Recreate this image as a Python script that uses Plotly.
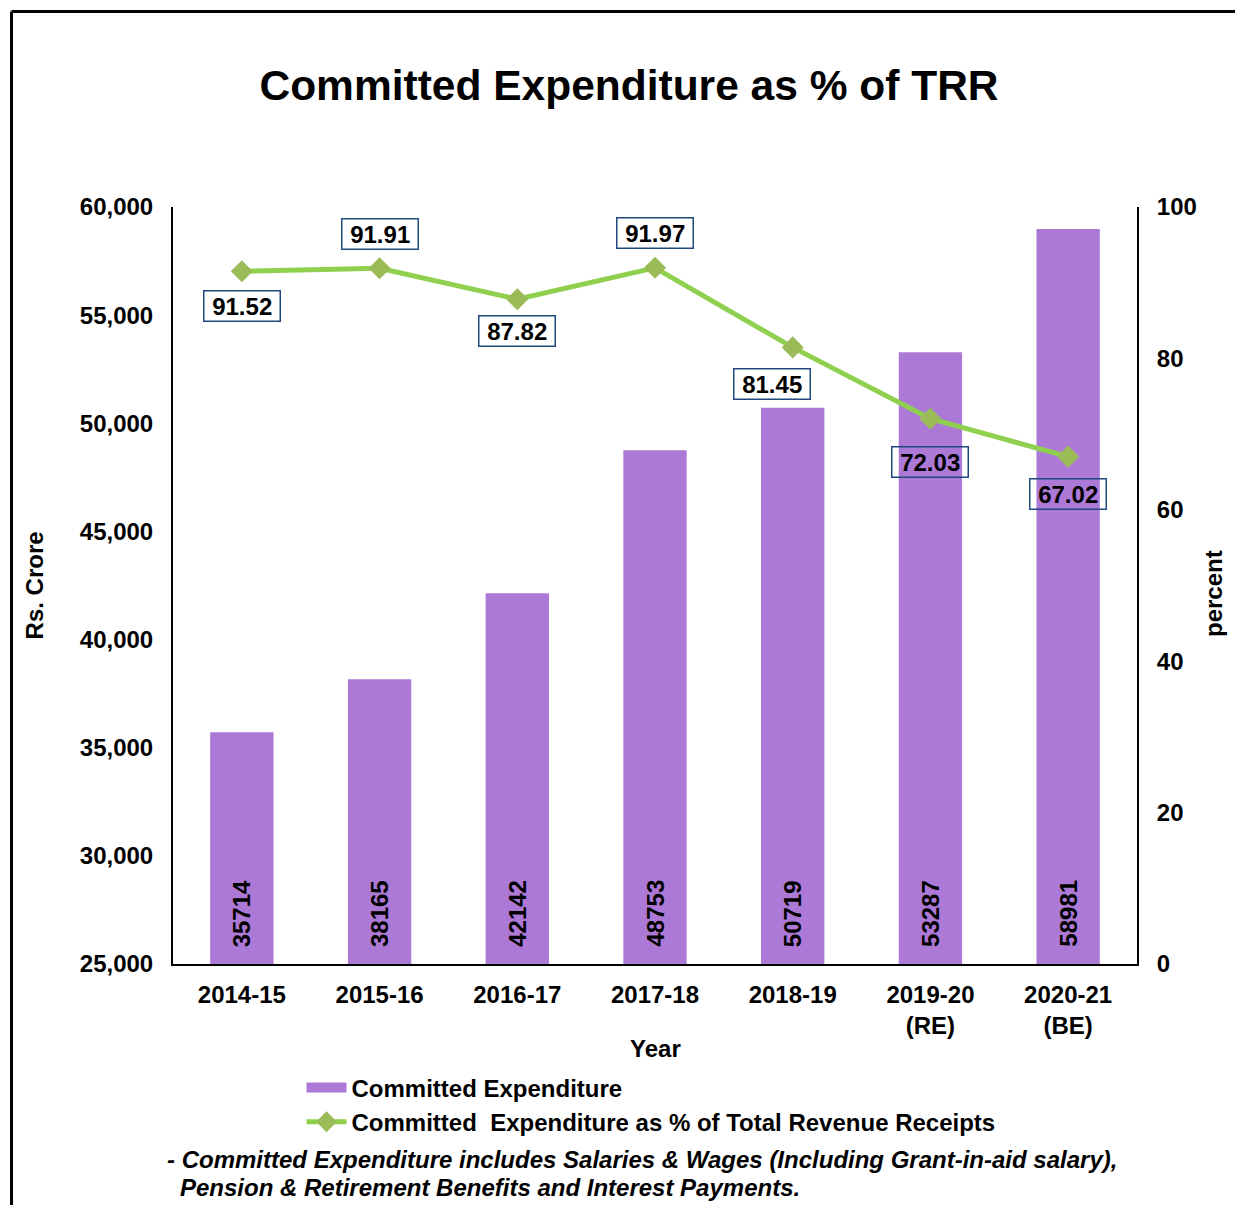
import plotly.graph_objects as go

years = ["2014-15", "2015-16", "2016-17", "2017-18", "2018-19", "2019-20<br>(RE)", "2020-21<br>(BE)"]
committed_exp = [35714, 38165, 42142, 48753, 50719, 53287, 58981]
pct_trr = [91.52, 91.91, 87.82, 91.97, 81.45, 72.03, 67.02]
y_ticks = [25000, 30000, 35000, 40000, 45000, 50000, 55000, 60000]
y2_ticks = [0, 20, 40, 60, 80, 100]

FONT = "Liberation Sans, Arial, sans-serif"
BAR = "#AD79D6"
LINE = "#8FD14F"
MARK = "#9BBB59"
BOX = "#1F497D"
FS = 24

def bfont(size=FS):
    return dict(family=FONT, size=size, color="black", weight="bold")

fig = go.Figure()
fig.add_trace(go.Bar(
    x=years, y=committed_exp, name="Committed Expenditure",
    marker=dict(color=BAR, line=dict(width=0)), width=0.46,
    showlegend=False,
))
# legend entry for the bars (wide swatch like the original)
fig.add_trace(go.Scatter(
    x=[None], y=[None], mode="lines", name="Committed Expenditure",
    line=dict(color=BAR, width=14), legendgroup="a", hoverinfo="skip",
))
fig.add_trace(go.Scatter(
    x=years, y=pct_trr, yaxis="y2", mode="lines+markers",
    name="Committed  Expenditure as % of Total Revenue Receipts",
    line=dict(color=LINE, width=5), legendgroup="b",
    marker=dict(symbol="diamond", size=17, color=MARK),
))

annotations = []
# bar value labels (rotated, at bar base)
for x, v in zip(years, committed_exp):
    annotations.append(dict(
        x=x, y=y_ticks[0], xref="x", yref="y", text=f"{v}",
        textangle=-90, showarrow=False, xanchor="center", yanchor="bottom",
        yshift=15, font=bfont(),
    ))
# line value labels (boxed)
offsets = [(0, -35), (0, 34), (0, -32), (0, 35), (-21, -37), (0, -43), (0, -37)]
for (x, v), (dx, dy) in zip(zip(years, pct_trr), offsets):
    annotations.append(dict(
        x=x, y=v, xref="x", yref="y2", text="\u00a0" + f"{v:.2f}" + "\u00a0",
        showarrow=False, xshift=dx, yshift=dy, xanchor="center", yanchor="middle",
        font=bfont(),
        bordercolor=BOX, borderwidth=1.5, borderpad=1, bgcolor="rgba(0,0,0,0)",
    ))
# axis titles & footnote
annotations += [
    dict(x=-0.1432, y=0.5, xref="paper", yref="paper", text="Rs. Crore",
         xanchor="center", yanchor="middle",
         textangle=-90, showarrow=False, font=bfont()),
    dict(x=1.0788, y=0.49, xref="paper", yref="paper", text="percent",
         xanchor="center", yanchor="middle",
         textangle=-90, showarrow=False, font=bfont()),
    dict(x=0.5, y=-0.111, xref="paper", yref="paper", text="Year",
         xanchor="center", yanchor="middle",
         showarrow=False, font=bfont()),
    dict(x=-0.0083, y=-0.2576, xref="paper", yref="paper", xanchor="left", yanchor="middle",
         text="<i>- Committed Expenditure includes Salaries & Wages (Including Grant-in-aid salary),</i>",
         showarrow=False, font=bfont()),
    dict(x=0.0052, y=-0.2946, xref="paper", yref="paper", xanchor="left", yanchor="middle",
         text="<i>Pension & Retirement Benefits and Interest Payments.</i>",
         showarrow=False, font=bfont()),
]

shapes = [
    dict(type="line", xref="paper", yref="paper", x0=-0.1675, x1=-0.1675, y0=-0.5, y1=1.2583,
         line=dict(color="black", width=3)),
    dict(type="line", xref="paper", yref="paper", x0=-0.1675, x1=1.3, y0=1.2583, y1=1.2583,
         line=dict(color="black", width=3)),
]

fig.update_layout(
    width=1227, height=1197,
    margin=dict(l=165, r=98, t=199, b=241),
    paper_bgcolor="white", plot_bgcolor="white",
    font=dict(family=FONT, size=FS, color="black"),
    title=dict(text="Committed Expenditure as % of TRR", x=621 / 1227, xref="container",
               xanchor="center", y=1 - 77 / 1197, yanchor="middle",
               font=bfont(42.5)),
    xaxis=dict(showline=True, linecolor="black", linewidth=2, showgrid=False,
               ticks="outside", ticklen=8, tickcolor="rgba(0,0,0,0)",
               tickfont=bfont()),
    yaxis=dict(range=[25000, 60000], tickvals=y_ticks, tickformat=",", showline=True,
               linecolor="black", linewidth=2, showgrid=False, zeroline=False,
               ticks="outside", ticklen=13, tickcolor="rgba(0,0,0,0)",
               tickfont=bfont()),
    yaxis2=dict(range=[0, 100], tickvals=y2_ticks, overlaying="y", side="right",
                showline=True, linecolor="black", linewidth=2, showgrid=False, zeroline=False,
                ticks="outside", ticklen=13, tickcolor="rgba(0,0,0,0)",
                tickfont=bfont()),
    legend=dict(x=0.1333, y=-0.134, xanchor="left", yanchor="top", orientation="v",
                font=bfont(), bgcolor="rgba(0,0,0,0)", tracegroupgap=0,
                itemwidth=40),
    showlegend=True,
    annotations=annotations, shapes=shapes,
)

fig.write_html("out.html")
